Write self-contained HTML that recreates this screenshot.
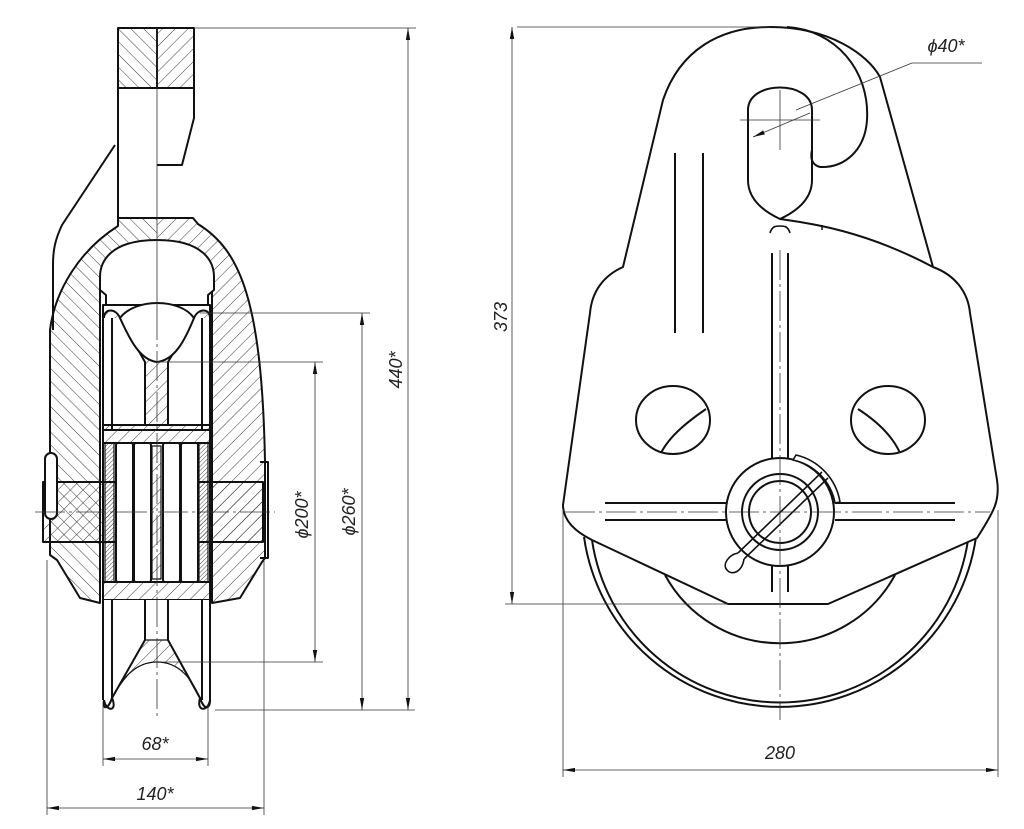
<!DOCTYPE html>
<html><head><meta charset="utf-8"><style>html,body{margin:0;padding:0;background:#fff}svg{display:block}</style></head>
<body>
<svg width="1024" height="829" viewBox="0 0 1024 829" xmlns="http://www.w3.org/2000/svg" font-family="Liberation Sans, sans-serif">
<defs>
<pattern id="h1" width="9" height="9" patternUnits="userSpaceOnUse" patternTransform="rotate(45)"><line x1="0" y1="0" x2="0" y2="9" stroke="#222" stroke-width="0.9"/></pattern>
<pattern id="h2" width="9" height="9" patternUnits="userSpaceOnUse" patternTransform="rotate(-45)"><line x1="0" y1="0" x2="0" y2="9" stroke="#222" stroke-width="0.9"/></pattern>
<pattern id="h3" width="3" height="3" patternUnits="userSpaceOnUse" patternTransform="rotate(45)"><line x1="0" y1="0" x2="0" y2="3" stroke="#222" stroke-width="0.8"/></pattern>
<clipPath id="cl"><rect x="0" y="0" width="157" height="829"/></clipPath>
<clipPath id="cr"><rect x="157" y="0" width="300" height="829"/></clipPath>
<marker id="a" viewBox="0 0 10 10" refX="10" refY="5" markerWidth="12" markerHeight="12" orient="auto-start-reverse" markerUnits="userSpaceOnUse"><path d="M0,3.2 L10,5 L0,6.8 Z" fill="#111"/></marker>
</defs>

<!-- ============ LEFT VIEW ============ -->
<g stroke="#111" stroke-width="2" fill="none" stroke-linejoin="round">
<rect x="118" y="28" width="39" height="60" fill="url(#h2)"/>
<rect x="157" y="28" width="37" height="60" fill="url(#h1)"/>
<path d="M118,88 L118,218 M157,88 L194,88 L194,118 L182,165 L157,165"/>
<path d="M115,145 L62,225 C55,240 53,250 53,265 L53,330"/>
<!-- body -->
<g>
<path clip-path="url(#cl)" stroke="none" d="M118,218 L193,218 L198,224 C240,250 262,300 265,462 L265,558 L262,562 L240,598 L212,603 L212,290 L100,290 L100,603 L80,598 L57,560 L50,555 L50,330 C55,290 80,250 118,226 Z" fill="url(#h2)"/>
<path clip-path="url(#cr)" stroke="none" d="M118,218 L193,218 L198,224 C240,250 262,300 265,462 L265,558 L262,562 L240,598 L212,603 L212,290 L100,290 L100,603 L80,598 L57,560 L50,555 L50,330 C55,290 80,250 118,226 Z" fill="url(#h1)"/>
<path d="M118,218 L193,218 L198,224 C240,250 262,300 265,462 L265,558 L262,562 L240,598 L212,603 L212,290 L100,290 L100,603 L80,598 L57,560 L50,555 L50,330 C55,290 80,250 118,226 Z"/>
</g>
<path d="M100,290 L100,277 C100,262 110,240 157,240 C204,240 214,262 214,277 L214,290 L208,295 L208,305 L106,305 L106,295 Z" fill="#fff"/>
<rect x="103" y="305" width="107" height="125" fill="#fff"/>
<path d="M103,318 L103,430 M112,318 L112,430 M202,318 L202,430 M210,318 L210,430" />
<path d="M104,318 C104,308 116,308 120,318 L145,362 L145,425 L168,425 L168,362 L194,318 C198,308 210,308 210,318" fill="url(#h1)"/>
<path d="M120,318 C135,298 180,298 194,318 C185,340 175,360 157,362 C140,360 130,340 120,318 Z" fill="#fff"/>
<rect x="103" y="425" width="107" height="18" fill="url(#h1)"/>
<rect x="103" y="443" width="107" height="139" fill="#fff"/>
<rect x="105" y="443" width="9" height="139" fill="url(#h3)" stroke-width="1.2"/>
<rect x="199" y="443" width="9" height="139" fill="url(#h3)" stroke-width="1.2"/>
<rect x="116" y="443" width="17" height="139" rx="2"/>
<rect x="134" y="443" width="17" height="139" rx="2"/>
<rect x="152" y="446" width="9" height="133" fill="url(#h1)" stroke-width="1.2"/>
<rect x="163" y="443" width="17" height="139" rx="2"/>
<rect x="181" y="443" width="17" height="139" rx="2"/>
<rect x="103" y="582" width="107" height="18" fill="url(#h1)"/>
<rect x="43" y="482" width="73" height="60" fill="url(#h1)"/>
<rect x="198" y="482" width="65" height="60" fill="url(#h1)"/>
<rect x="45" y="453" width="12" height="66" rx="6" fill="#fff"/>
<path d="M260,462 L268,462 L268,558 L260,558"/>
<rect x="103" y="600" width="107" height="110" fill="#fff" stroke="none"/>
<path d="M103,600 L103,700 M112,600 L112,700 M202,600 L202,700 M210,600 L210,700"/>
<path d="M145,600 L145,640 L112,698 C108,710 102,710 104,700 M168,600 L168,640 L200,698 C204,710 210,710 210,700"/>
<path d="M145,640 L168,640 L200,698 C192,680 180,662 157,662 C134,662 122,680 112,698 Z" fill="url(#h1)" stroke-width="1.2"/>
<path d="M104,700 C106,712 118,712 112,698 M210,700 C208,712 196,712 200,698"/>
</g>
<g stroke="#333" stroke-width="0.8" fill="none">
<line x1="157" y1="28" x2="157" y2="310"/>
<line x1="157" y1="310" x2="157" y2="720" stroke-dasharray="30,4,3,4"/>
<line x1="35" y1="512" x2="275" y2="512" stroke-dasharray="30,4,3,4"/>
<line x1="194" y1="28" x2="416" y2="28"/>
<line x1="200" y1="313" x2="370" y2="313"/>
<line x1="157" y1="362" x2="323" y2="362"/>
<line x1="163" y1="662" x2="323" y2="662"/>
<line x1="215" y1="710" x2="415" y2="710"/>
<line x1="408" y1="28" x2="408" y2="710" marker-start="url(#a)" marker-end="url(#a)"/>
<line x1="362" y1="313" x2="362" y2="710" marker-start="url(#a)" marker-end="url(#a)"/>
<line x1="315" y1="362" x2="315" y2="662" marker-start="url(#a)" marker-end="url(#a)"/>
<line x1="103" y1="705" x2="103" y2="766"/>
<line x1="208" y1="705" x2="208" y2="766"/>
<line x1="103" y1="759" x2="208" y2="759" marker-start="url(#a)" marker-end="url(#a)"/>
<line x1="47" y1="560" x2="47" y2="815"/>
<line x1="264" y1="560" x2="264" y2="815"/>
<line x1="47" y1="808" x2="264" y2="808" marker-start="url(#a)" marker-end="url(#a)"/>
</g>
<g fill="#222" font-size="18" font-style="italic" font-weight="300">
<text x="155" y="750" text-anchor="middle">68*</text>
<text x="155" y="800" text-anchor="middle">140*</text>
<text transform="translate(402,370) rotate(-90)" text-anchor="middle">440*</text>
<text transform="translate(355,512) rotate(-90)" text-anchor="middle">ϕ260*</text>
<text transform="translate(308,515) rotate(-90)" text-anchor="middle">ϕ200*</text>
<text transform="translate(507,317) rotate(-90)" text-anchor="middle">373</text>
<text x="946" y="52" text-anchor="middle">ϕ40*</text>
<text x="780" y="759" text-anchor="middle">280</text>
</g>

<!-- ============ RIGHT VIEW ============ -->
<g stroke="#111" stroke-width="2" fill="none" stroke-linejoin="round">
<path d="M584,537 A198,198 0 0 0 976,537"/>
<path d="M592,540 A190,190 0 0 0 968,540"/>
<path d="M665,575 A131,131 0 0 0 895,575"/>
<path d="M623,267 L663,100 C680,50 720,27 770,27 C830,27 868,55 880,77 L933,267 C955,275 968,292 970,313 L997,480 C1000,500 995,510 977,538 L828,604 L728,604 L592,540 C572,530 563,518 563,505 L590,313 C592,290 605,275 623,267 Z" fill="#fff"/>
<path d="M787,27 C835,30 870,70 867,120 C865,150 845,168 820,167 C812,165 810,158 812,150"/>
<path d="M748,180 L748,110 C748,80 812,80 812,110 L812,180 C812,200 795,212 780,219 C765,212 748,200 748,180 Z"/>
<path d="M780,219 C800,222 860,228 933,267"/>
<path d="M770,233 C772,226 776,226 780,226 C784,226 788,226 790,233" stroke-width="1.6"/>
<line x1="822" y1="225" x2="822" y2="230" stroke-width="1.5"/>
<line x1="675" y1="153" x2="675" y2="333"/>
<line x1="703" y1="153" x2="703" y2="333"/>
<line x1="772" y1="253" x2="772" y2="460"/>
<line x1="788" y1="253" x2="788" y2="460"/>
<line x1="772" y1="565" x2="772" y2="592"/>
<line x1="788" y1="565" x2="788" y2="592"/>
<line x1="605" y1="503" x2="727" y2="503"/>
<line x1="605" y1="520" x2="727" y2="520"/>
<line x1="835" y1="503" x2="955" y2="503"/>
<line x1="835" y1="520" x2="955" y2="520"/>
<ellipse cx="673" cy="420" rx="37" ry="34"/>
<path d="M661,453 C670,435 690,420 706,409"/>
<ellipse cx="888" cy="420" rx="37" ry="34"/>
<path d="M900,453 C892,435 875,420 858,409"/>
<circle cx="780" cy="512" r="54" fill="#fff"/>
<circle cx="780" cy="512" r="38"/>
<circle cx="780" cy="512" r="31"/>
<path d="M796,455 A58,58 0 0 1 840,502 L835,503 A54,54 0 0 0 793,460 Z" fill="#fff" stroke-width="1.6"/>
<path d="M738,553 L822,472 M744,559 L828,478" stroke-width="1.6"/>
<path d="M738,553 C728,555 722,565 727,570 C732,576 742,572 744,559" stroke-width="1.6" fill="#fff"/>
</g>
<g stroke="#333" stroke-width="0.8" fill="none">
<line x1="780" y1="90" x2="780" y2="150"/>
<line x1="740" y1="120" x2="820" y2="120"/>
<line x1="780" y1="250" x2="780" y2="720" stroke-dasharray="30,4,3,4"/>
<line x1="565" y1="512" x2="990" y2="512" stroke-dasharray="30,4,3,4"/>
<line x1="753" y1="137" x2="810" y2="113" marker-start="url(#a)"/>
<line x1="796" y1="110" x2="912" y2="63"/>
<line x1="912" y1="63" x2="982" y2="63"/>
<line x1="770" y1="27" x2="517" y2="27"/>
<line x1="728" y1="604" x2="505" y2="604"/>
<line x1="512" y1="27" x2="512" y2="604" marker-start="url(#a)" marker-end="url(#a)"/>
<line x1="563" y1="510" x2="563" y2="777"/>
<line x1="998" y1="510" x2="998" y2="777"/>
<line x1="563" y1="770" x2="998" y2="770" marker-start="url(#a)" marker-end="url(#a)"/>
</g>
</svg>
</body></html>
